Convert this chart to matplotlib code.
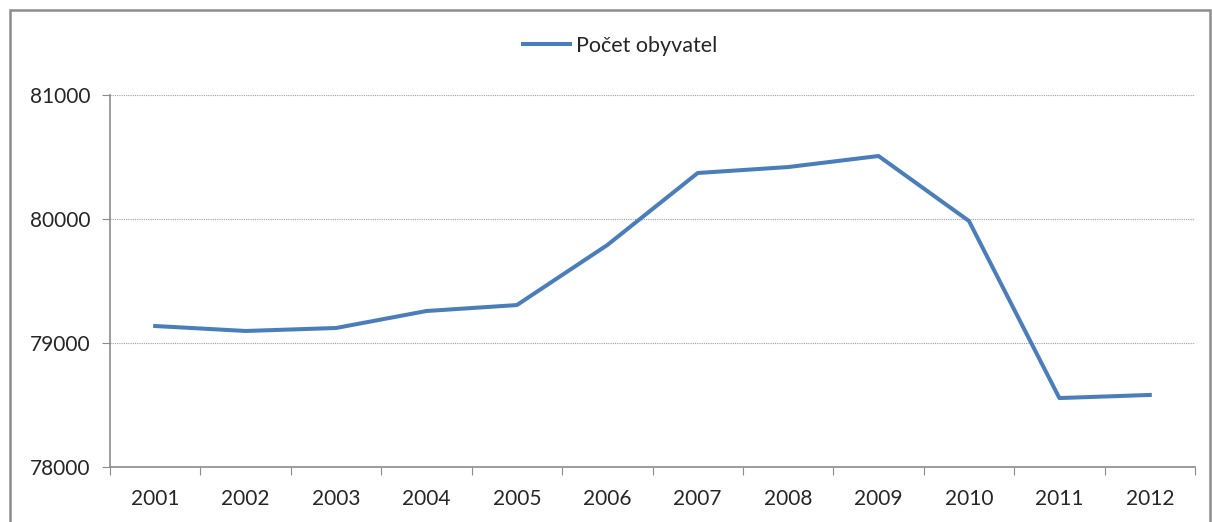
import matplotlib.pyplot as plt
from matplotlib.patches import Rectangle

# Data
years = ["2001", "2002", "2003", "2004", "2005", "2006",
         "2007", "2008", "2009", "2010", "2011", "2012"]
population = [79137, 79097, 79121, 79258, 79306, 79790,
              80371, 80419, 80508, 79984, 78556, 78581]
y_ticks = [78000, 79000, 80000, 81000]

plt.rcParams["font.family"] = ["Lato", "DejaVu Sans"]

W, H = 1212, 522
fig = plt.figure(figsize=(W / 100, H / 100), dpi=100)

# outer chart frame (bottom edge runs off the image)
fig.add_artist(Rectangle((10 / W, -0.05), 1200 / W, 1.05 - 10 / H,
                         transform=fig.transFigure, fill=False,
                         edgecolor="#8c8c8c", linewidth=1.8))

ax = fig.add_axes([110 / W, 1 - 467 / H, (1195 - 110) / W, (467 - 95) / H])

x = list(range(len(years)))
ax.plot(x, population, color="#4a7ebb", linewidth=2.9,
        solid_joinstyle="round", label="Počet obyvatel")

ax.set_xlim(-0.5, len(years) - 0.5)
ax.set_ylim(78000, 81000)

# category ticks between labels, labels centred on the points
ax.set_xticks([i - 0.5 for i in range(len(years) + 1)])
ax.set_xticklabels([])
ax.set_xticks(x, minor=True)
ax.set_xticklabels(years, minor=True)
ax.tick_params(axis="x", which="major", length=6, color="#8c8c8c", direction="out")
ax.tick_params(axis="x", which="minor", length=0, pad=16,
               labelsize=15, labelcolor="#262626")

ax.set_yticks(y_ticks)
ax.set_yticklabels([str(v) for v in y_ticks])
ax.tick_params(axis="y", length=6, color="#8c8c8c", direction="out",
               pad=8, labelsize=15, labelcolor="#262626")

ax.grid(axis="y", which="major", color="#a0a0a0", linestyle=(0, (1, 1)),
        linewidth=0.8)
ax.set_axisbelow(True)

for side in ["top", "right"]:
    ax.spines[side].set_visible(False)
for side in ["left", "bottom"]:
    ax.spines[side].set_color("#8c8c8c")
    ax.spines[side].set_linewidth(1.2)

fig.legend(loc="center", bbox_to_anchor=(620 / W, 1 - 46 / H),
           frameon=False, fontsize=15.5, handlelength=2.2, handletextpad=0.25,
           labelcolor="#262626")

plt.savefig("out.png", dpi=100)
